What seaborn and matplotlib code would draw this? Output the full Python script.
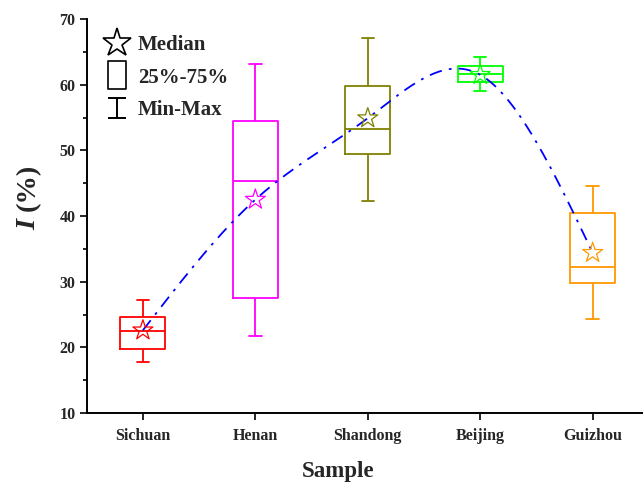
import numpy as np
import pandas as pd
import matplotlib
matplotlib.use("Agg")
import matplotlib.pyplot as plt
from matplotlib.path import Path
from matplotlib.lines import Line2D
from matplotlib.ticker import MultipleLocator
import seaborn as sns

# ---- data -------------------------------------------------------------
samples = ["Sichuan", "Henan", "Shandong", "Beijing", "Guizhou"]
whisker_low = [17.8, 21.8, 42.3, 59.1, 24.3]
q1 = [19.7, 27.5, 49.4, 60.4, 29.8]
median = [22.5, 45.4, 53.3, 61.7, 32.3]
q3 = [24.6, 54.5, 59.8, 62.8, 40.4]
whisker_high = [27.2, 63.1, 67.1, 64.2, 44.5]
star_vals = [22.6, 42.5, 54.9, 61.5, 34.4]
colors = ["#FF0000", "#FF00FF", "#808000", "#00FF00", "#FF9900"]
y_ticks = [10, 20, 30, 40, 50, 60, 70]

# five-number summaries per sample -> quartiles reproduce exactly
rows = []
for s, lo, a, m, b, hi in zip(samples, whisker_low, q1, median, q3, whisker_high):
    for v in (lo, a, m, b, hi):
        rows.append({"Sample": s, "value": v})
df = pd.DataFrame(rows)
stars = pd.DataFrame({"Sample": samples, "value": star_vals})


def natural_spline(y, n=400):
    """Natural cubic spline through equally spaced points (x = 0..len-1)."""
    y = np.asarray(y, float)
    k = len(y)
    A = np.zeros((k, k))
    d = np.zeros(k)
    A[0, 0] = A[-1, -1] = 1.0
    for i in range(1, k - 1):
        A[i, i - 1], A[i, i], A[i, i + 1] = 1.0, 4.0, 1.0
        d[i] = 6.0 * (y[i + 1] - 2 * y[i] + y[i - 1])
    M = np.linalg.solve(A, d)
    xs = np.linspace(0, k - 1, n)
    idx = np.clip(np.floor(xs).astype(int), 0, k - 2)
    t = xs - idx
    ys = ((1 - t) * y[idx] + t * y[idx + 1]
          + ((1 - t) ** 3 - (1 - t)) * M[idx] / 6
          + (t ** 3 - t) * M[idx + 1] / 6)
    return xs, ys


# ---- style ------------------------------------------------------------
sns.set_style("ticks")
plt.rcParams["font.family"] = ["Liberation Serif", "DejaVu Serif"]
plt.rcParams["font.weight"] = "bold"
plt.rcParams["axes.labelweight"] = "bold"

W, H = 643, 483
fig = plt.figure(figsize=(W / 100, H / 100), dpi=100)
ax = fig.add_axes([86.7 / W, 70 / H, (W - 86.7) / W, 394 / H])

palette = dict(zip(samples, colors))

sns.boxplot(data=df, x="Sample", y="value", hue="Sample", palette=palette,
            order=samples, hue_order=samples, dodge=False, fill=False,
            whis=np.inf, width=0.4, linewidth=1.3, legend=False,
            capwidths=0.11, ax=ax)

# smooth connecting curve through the star markers
xs, ys = natural_spline(star_vals)
sns.lineplot(x=xs, y=ys, color="#0000FF", linewidth=1.3, ax=ax,
             dashes=False, legend=False, zorder=4)
ax.lines[-1].set_dashes((7, 4, 1.5, 4))

sns.scatterplot(data=stars, x="Sample", y="value", hue="Sample",
                palette=palette, marker="*", s=230, linewidth=0.9,
                legend=False, ax=ax, zorder=5)
coll = ax.collections[-1]
coll.set_edgecolors(colors)
coll.set_facecolors("none")

# ---- axes -------------------------------------------------------------
ax.set_xlim(-0.5, (W - 143.3) / 112.35)
ax.set_ylim(10, 70)
ax.set_yticks(y_ticks)
ax.yaxis.set_minor_locator(MultipleLocator(5))
ax.set_xticks(range(len(samples)))
ax.set_xticklabels(samples)
for side in ("top", "right"):
    ax.spines[side].set_visible(False)
for side in ("left", "bottom"):
    ax.spines[side].set_linewidth(1.4)
    ax.spines[side].set_color("black")
ax.tick_params(axis="both", which="major", direction="out", length=5,
               width=1.2, color="black", labelsize=11.5)
ax.tick_params(axis="x", pad=6)
ax.tick_params(axis="y", pad=3)
ax.tick_params(axis="y", which="minor", direction="out", length=3,
               width=1.2, color="black")
for lab in ax.get_xticklabels() + ax.get_yticklabels():
    lab.set_fontweight("bold")

ax.set_xlabel("Sample", fontsize=16.5, fontweight="bold")
ax.xaxis.set_label_coords(0.452, -0.123)
ax.set_ylabel("")
# y label: italic symbol followed by the unit
ax.text(-0.082, 0.512, "(%)", transform=ax.transAxes, rotation=90,
        ha="right", va="bottom", fontsize=20.5, fontweight="bold")
ax.text(-0.082, 0.512, "I ", transform=ax.transAxes, rotation=90,
        ha="right", va="top", fontsize=20.5, fontweight="bold",
        style="italic")

# ---- legend -----------------------------------------------------------
rect_marker = Path([(-0.33, -0.5), (0.33, -0.5), (0.33, 0.5), (-0.33, 0.5),
                    (-0.33, -0.5)],
                   [Path.MOVETO, Path.LINETO, Path.LINETO, Path.LINETO,
                    Path.CLOSEPOLY])
ibar_marker = Path([(-0.45, 0.5), (0.45, 0.5), (0, 0.5), (0, -0.5),
                    (-0.45, -0.5), (0.45, -0.5)],
                   [Path.MOVETO, Path.LINETO, Path.MOVETO, Path.LINETO,
                    Path.MOVETO, Path.LINETO])
handles = [
    Line2D([], [], linestyle="none", marker="*", markersize=21,
           markerfacecolor="none", markeredgecolor="black",
           markeredgewidth=1.2),
    Line2D([], [], linestyle="none", marker=rect_marker, markersize=19.5,
           markerfacecolor="none", markeredgecolor="black",
           markeredgewidth=1.2),
    Line2D([], [], linestyle="none", marker=ibar_marker, markersize=15,
           markerfacecolor="none", markeredgecolor="black",
           markeredgewidth=1.4),
]
ax.legend(handles, ["Median", "25%-75%", "Min-Max"], loc="upper left",
          bbox_to_anchor=(0.0284, 0.959), borderaxespad=0, borderpad=0,
          frameon=False, handlelength=1.4, handletextpad=0.3,
          labelspacing=0.6, prop={"size": 15, "weight": "bold"})

fig.savefig("out.png", dpi=100)
